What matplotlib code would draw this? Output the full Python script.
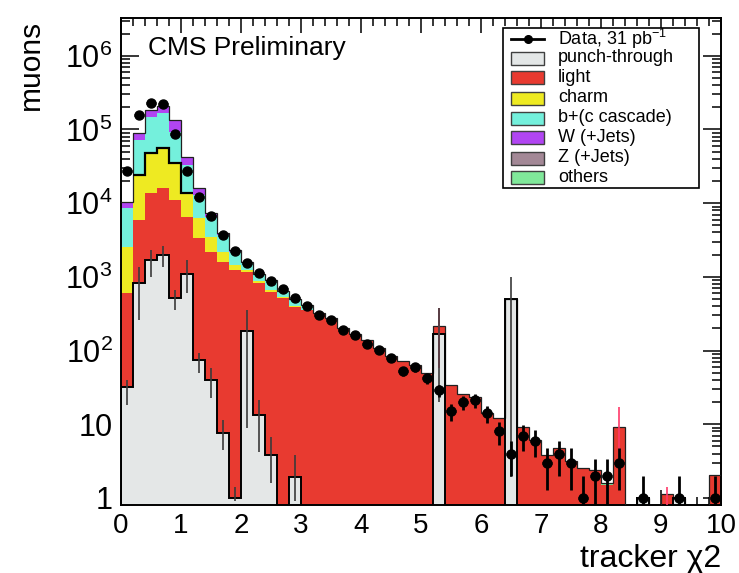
import numpy as np
import matplotlib
matplotlib.use("Agg")
import matplotlib.pyplot as plt
from matplotlib.patches import Rectangle
from matplotlib.lines import Line2D
from matplotlib.ticker import MultipleLocator, FixedLocator, LogLocator, NullFormatter

plt.rcParams['font.family'] = ['Liberation Sans', 'DejaVu Sans']

# ---- binning: 50 bins of 0.2 in tracker chi2 ----
edges = np.linspace(0.0, 10.0, 51)
centers = 0.5 * (edges[:-1] + edges[1:])

# ---- simulated components (muons per bin) ----
punch_through = [32, 826, 1700, 2000, 520, 1100, 75, 40, 7.7, 1,
                 186, 13.4, 3.8, 0, 1.9, 0, 0, 0, 0, 0,
                 0, 0, 0, 0, 0, 0, 168, 0, 0, 0,
                 0, 0, 497, 0, 0, 0, 0, 0, 0, 0,
                 0, 0, 0, 1, 0, 0, 1, 0, 0, 0]
light = [568, 5074, 11900, 13900, 10480, 5460, 3265, 2160, 1592, 1239,
         994, 807, 626, 510, 392, 355, 321, 274, 200, 168,
         139, 109, 85, 73, 63, 49, 48, 34, 26, 23.7,
         14.1, 12, 0, 9.3, 6.1, 3.7, 4.7, 3.2, 2.5, 2.4,
         1.5, 9.3, 0, 0, 0, 1.12, 0, 0, 0, 2.05]
charm = [1970, 18200, 33900, 39700, 23800, 7040, 2900, 1300, 540, 210,
         70, 50, 30, 15, 10, 5] + [0] * 34
b_cascade = [5930, 47900, 98500, 110400, 58500, 19400, 6660, 2900, 1560, 750,
             300, 210, 240, 120, 100, 55] + [0] * 34
w_jets = [2000, 18600, 38000, 42000, 41700, 9000, 3000, 1000, 200, 100,
          50, 20] + [0] * 38
z_jets = [0] * 50
others = [0] * 35 + [0.12, 0, 0, 0.06, 0, 0.08] + [0] * 9

# ---- data, 31 pb^-1 ----
data = [27600, 157000, 231000, 222000, 87000, 27600, 12000, 6700, 3700, 2270,
        1530, 1120, 880, 680, 510, 403, 304, 260, 190, 163,
        122, 102, 80, 52, 59, 42, 29, 15, 20, 21,
        14, 8, 4, 7, 6, 3, 4, 3, 1, 2,
        2, 3, 0, 1, 0, 0, 1, 0, 0, 1]

# ---- MC statistical uncertainty (lower / upper edges) ----
pt_err_lo = [18, 260, 1000, 1370, 355, 610, 50, 23, 4.5, 0.9,
             9, 4.2, 1.6, 0, 0.9] + [0] * 11 + [20] + [0] * 5 + [1.9] + [0] * 17
pt_err_hi = [40, 1370, 2300, 2600, 660, 1700, 92, 58, 11.4, 1.4,
             356, 21, 6.7, 0, 3.8] + [0] * 11 + [380] + [0] * 5 + [1000] + [0] * 17
light_err_lo = [0] * 26 + [57] + [0] * 14 + [3] + [0] * 3 + [0.8] + [0] * 4
light_err_hi = [0] * 26 + [375] + [0] * 14 + [17] + [0] * 3 + [1.42] + [0] * 4

x_ticks = list(range(11))
y_ticks = [1, 10, 1e2, 1e3, 1e4, 1e5, 1e6]
y_tick_labels = ["1", "10", r"$\mathregular{10^{2}}$", r"$\mathregular{10^{3}}$",
                 r"$\mathregular{10^{4}}$", r"$\mathregular{10^{5}}$",
                 r"$\mathregular{10^{6}}$"]

components = [
    ("punch-through", punch_through, "#e4e7e7"),
    ("light", light, "#e83a30"),
    ("charm", charm, "#eeea22"),
    ("b+(c cascade)", b_cascade, "#74f0dc"),
    ("W (+Jets)", w_jets, "#b145f2"),
    ("Z (+Jets)", z_jets, "#a38896"),
    ("others", others, "#80e89a"),
]

W, H = 739, 573
fig = plt.figure(figsize=(W / 100, H / 100), dpi=100)
ax = fig.add_axes([121 / W, 1 - 505 / H, 600 / W, 487 / H])
ax.set_yscale("log")
ax.set_xlim(0, 10)
ax.set_ylim(0.80, 3.26e6)

floor = 1e-3
bottom = np.full(50, floor)
for name, vals, col in components:
    top = bottom + np.asarray(vals, dtype=float)
    ax.stairs(top, edges, baseline=bottom, fill=True, color=col, lw=0, zorder=2)
    bottom = top
total = bottom

# outlines
ax.stairs(total, edges, baseline=None, color="#202020", lw=0.9, zorder=3)
pt_arr = np.asarray(punch_through, dtype=float)
ax.stairs(np.where(pt_arr > 0, pt_arr, floor), edges, baseline=floor,
          color="black", lw=1.4, zorder=3)
charm_top = floor + pt_arr + np.asarray(light) + np.asarray(charm)
ax.stairs(charm_top[1:6], edges[1:7], baseline=None, color="black", lw=1.6, zorder=3)

# MC uncertainty lines
lo = np.asarray(pt_err_lo, float); hi = np.asarray(pt_err_hi, float)
m = hi > 0
ax.vlines(centers[m], lo[m], hi[m], color="#3a3a3a", lw=1.2, zorder=4)
lo = np.asarray(light_err_lo, float); hi = np.asarray(light_err_hi, float)
m = hi > 0
ax.vlines(centers[m], lo[m], hi[m], color="#ff3a6a", lw=1.2, zorder=3.5)

# data points with Poisson uncertainties
d = np.asarray(data, dtype=float)
sel = d > 0
err = np.sqrt(d[sel])
low = np.minimum(err, d[sel] - floor)
ax.errorbar(centers[sel], d[sel], yerr=[low, err], xerr=0.085, fmt="o",
            color="black", ms=6.5, elinewidth=2.0, capsize=0, zorder=6)

# axes styling
for s in ax.spines.values():
    s.set_linewidth(1.4)
ax.set_xticks(x_ticks)
ax.set_xticklabels([str(t) for t in x_ticks])
ax.xaxis.set_minor_locator(MultipleLocator(0.2))
ax.yaxis.set_major_locator(FixedLocator(y_ticks))
ax.set_yticklabels(y_tick_labels)
ax.yaxis.set_minor_locator(LogLocator(base=10, subs=np.arange(2, 10)))
ax.yaxis.set_minor_formatter(NullFormatter())
ax.tick_params(which="both", direction="in", top=True, right=True, width=1.1)
ax.tick_params(axis="x", which="major", length=11, labelsize=20, pad=6)
ax.tick_params(axis="x", which="minor", length=5.5)
ax.tick_params(axis="y", which="major", length=13, labelsize=22, pad=6)
ax.tick_params(axis="y", which="minor", length=6.5)

fig.text(31 / W, 1 - 20 / H, "muons", rotation=90, ha="center", va="top", fontsize=21.5)
fig.text(721 / W, 1 - 567 / H, "tracker \u03c72", ha="right", va="baseline", fontsize=23)
fig.text(148 / W, 1 - 55 / H, "CMS Preliminary", ha="left", va="baseline", fontsize=19)

# legend
def fx(px):
    return px / W

def fy(py):
    return 1 - py / H

fig.patches.append(Rectangle((fx(503), fy(188)), (699 - 503) / W, (188 - 28) / H,
                             transform=fig.transFigure, facecolor="white",
                             edgecolor="black", lw=1.2, zorder=10))
rows = [38.5, 58, 77.5, 98, 118, 138, 158, 178]
fig.lines.append(Line2D([fx(511), fx(544)], [fy(rows[0])] * 2, transform=fig.transFigure,
                        color="black", lw=2.0, zorder=11))
fig.lines.append(Line2D([fx(527.5)], [fy(rows[0])], transform=fig.transFigure,
                        marker="o", ms=5.5, color="black", zorder=11))
fig.text(fx(558), fy(rows[0]), r"Data, 31 pb$\mathregular{^{-1}}$", va="center",
         ha="left", fontsize=13, zorder=11)
for (name, vals, col), r in zip(components, rows[1:]):
    fig.patches.append(Rectangle((fx(511), fy(r + 6.5)), 33 / W, 13 / H,
                                 transform=fig.transFigure, facecolor=col,
                                 edgecolor="#404040", lw=1.0, zorder=11))
    fig.text(fx(558), fy(r), name, va="center", ha="left", fontsize=13, zorder=11)

fig.savefig("out.png", dpi=100)
